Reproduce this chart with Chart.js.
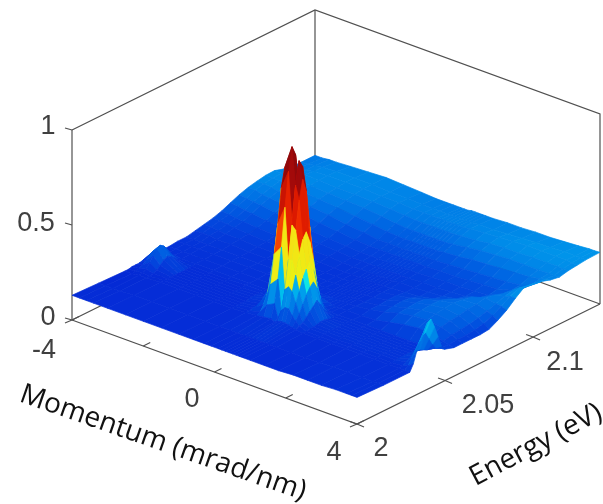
<!DOCTYPE html>
<html><head><meta charset="utf-8">
<style>html,body{margin:0;padding:0;background:#fff}canvas{display:block}</style>
<script src="https://cdn.jsdelivr.net/npm/chart.js@4"></script>
</head><body><canvas id="c" width="603" height="504"></canvas>
<script>
const momentum=[-4,-3.8,-3.6,-3.4,-3,-2.5,-2,-1.5,-1,-.6,-.3,-.1,.1,.2,.3,.4,.5,.6,.7,.8,1,1.4,1.8,2.2,2.6,3,3.4,3.7,3.85,4];
const energy=[2,2.015,2.03,2.032,2.034,2.036,2.038,2.04,2.042,2.044,2.046,2.048,2.05,2.055,2.06,2.065,2.07,2.075,2.08,2.085,2.09,2.095,2.1,2.105,2.11,2.115,2.12,2.125,2.13,2.138];
const surface=[
[.13,.13,.13,.13,.13,.13,.13,.13,.13,.13,.13,.13,.13,.13,.13,.13,.13,.13,.13,.13,.13,.13,.13,.135,.135,.135,.14,.14,.14,.14],
[.125,.125,.125,.125,.13,.13,.13,.13,.13,.13,.13,.13,.13,.13,.13,.13,.13,.13,.13,.13,.13,.13,.13,.13,.135,.135,.135,.135,.135,.135],
[.12,.12,.125,.125,.13,.13,.13,.13,.13,.135,.14,.145,.15,.14,.15,.155,.155,.15,.145,.14,.135,.135,.135,.135,.135,.135,.135,.135,.135,.135],
[.12,.125,.13,.125,.13,.13,.13,.13,.13,.135,.15,.2,.22,.15,.2,.22,.22,.19,.17,.15,.135,.135,.135,.135,.135,.135,.135,.14,.15,.17],
[.125,.13,.14,.13,.13,.13,.13,.13,.13,.14,.18,.3,.34,.17,.3,.32,.3,.25,.2,.16,.14,.14,.135,.14,.14,.14,.14,.15,.18,.23],
[.125,.14,.165,.14,.13,.13,.13,.13,.13,.14,.22,.45,.5,.25,.45,.45,.38,.3,.24,.18,.14,.14,.14,.14,.14,.14,.14,.16,.21,.27],
[.125,.155,.19,.155,.13,.13,.13,.13,.13,.145,.26,.6,.7,.4,.62,.6,.48,.36,.28,.2,.145,.14,.14,.14,.14,.14,.14,.17,.24,.31],
[.13,.175,.215,.175,.13,.13,.13,.13,.135,.15,.3,.78,.88,.62,.82,.75,.55,.4,.31,.22,.15,.14,.14,.14,.14,.14,.14,.18,.27,.35],
[.13,.185,.228,.185,.13,.13,.13,.13,.135,.155,.32,.88,1,.8,.94,.85,.58,.43,.33,.24,.15,.14,.14,.14,.14,.14,.14,.18,.28,.36],
[.13,.175,.215,.175,.13,.13,.13,.13,.135,.15,.3,.82,.95,.8,.9,.78,.52,.38,.29,.21,.145,.14,.14,.14,.14,.14,.14,.17,.24,.31],
[.13,.155,.19,.155,.13,.13,.13,.13,.135,.145,.24,.6,.72,.7,.7,.58,.42,.3,.22,.17,.14,.14,.14,.14,.14,.14,.14,.16,.2,.25],
[.13,.14,.16,.14,.13,.13,.13,.135,.135,.14,.18,.35,.42,.42,.42,.35,.28,.21,.17,.15,.14,.14,.14,.14,.14,.14,.14,.155,.17,.19],
[.135,.135,.14,.135,.135,.135,.135,.135,.135,.14,.15,.2,.24,.24,.24,.2,.17,.155,.145,.14,.14,.14,.14,.14,.14,.14,.145,.15,.16,.165],
[.135,.135,.135,.135,.135,.135,.135,.135,.135,.135,.14,.15,.155,.155,.155,.15,.145,.14,.14,.14,.14,.14,.145,.16,.175,.185,.18,.165,.155,.15],
[.14,.14,.14,.14,.14,.14,.14,.14,.14,.14,.14,.14,.14,.14,.14,.14,.14,.14,.14,.14,.14,.15,.165,.185,.2,.205,.195,.175,.16,.15],
[.14,.14,.14,.14,.14,.14,.14,.14,.14,.14,.14,.14,.14,.14,.14,.14,.14,.14,.14,.14,.14,.15,.17,.19,.205,.215,.205,.18,.16,.15],
[.15,.15,.15,.145,.145,.14,.14,.14,.14,.14,.14,.14,.14,.14,.14,.14,.14,.14,.14,.14,.14,.155,.175,.195,.21,.22,.21,.185,.165,.15],
[.16,.16,.155,.15,.15,.145,.145,.14,.14,.14,.14,.14,.14,.14,.14,.14,.14,.14,.14,.14,.145,.155,.17,.19,.21,.225,.22,.195,.175,.155],
[.17,.17,.165,.16,.155,.15,.15,.145,.145,.14,.14,.14,.14,.14,.14,.14,.14,.14,.14,.14,.145,.15,.155,.17,.195,.22,.225,.21,.195,.18],
[.185,.18,.175,.17,.165,.16,.155,.15,.15,.145,.145,.145,.145,.145,.145,.145,.145,.145,.145,.145,.15,.15,.155,.16,.175,.21,.235,.225,.22,.21],
[.205,.2,.195,.19,.18,.17,.165,.16,.155,.15,.15,.15,.15,.15,.15,.15,.15,.15,.15,.15,.15,.155,.155,.16,.165,.185,.225,.24,.25,.25],
[.225,.22,.215,.21,.2,.185,.175,.165,.16,.155,.155,.155,.155,.155,.155,.155,.155,.155,.155,.155,.155,.16,.165,.165,.17,.175,.21,.25,.27,.285],
[.24,.24,.23,.225,.22,.205,.19,.18,.17,.165,.165,.165,.165,.165,.165,.165,.165,.165,.165,.165,.165,.17,.17,.175,.18,.185,.205,.235,.26,.28],
[.25,.25,.245,.24,.235,.22,.21,.195,.185,.175,.175,.175,.175,.175,.175,.175,.175,.175,.175,.175,.175,.18,.185,.19,.195,.2,.21,.23,.25,.27],
[.258,.258,.255,.25,.245,.235,.225,.215,.205,.195,.19,.19,.19,.19,.19,.19,.19,.19,.19,.19,.195,.2,.21,.215,.22,.225,.23,.24,.25,.255],
[.26,.26,.26,.26,.25,.245,.24,.235,.225,.215,.21,.21,.21,.21,.21,.21,.21,.21,.21,.21,.215,.225,.235,.24,.245,.245,.245,.245,.245,.247],
[.245,.25,.255,.258,.255,.25,.25,.245,.24,.235,.23,.23,.23,.23,.23,.23,.23,.23,.23,.23,.235,.24,.25,.255,.255,.26,.26,.26,.258,.258],
[.235,.24,.245,.25,.255,.255,.255,.25,.25,.245,.245,.245,.245,.245,.245,.245,.245,.245,.245,.245,.25,.255,.26,.265,.27,.27,.27,.27,.265,.263],
[.235,.24,.245,.25,.255,.255,.255,.25,.25,.245,.245,.245,.245,.245,.245,.245,.245,.245,.245,.245,.25,.25,.255,.26,.265,.265,.27,.27,.27,.269],
[.235,.235,.24,.24,.245,.25,.255,.25,.245,.24,.24,.24,.24,.24,.24,.245,.245,.245,.245,.245,.245,.25,.25,.255,.255,.26,.265,.27,.27,.272]
];
const zTicks=[0,.5,1];
const mTicks=[-4,-2,0,2,4], eTicks=[2,2.05,2.1];
const colorStops=[[.10,0,30,205],[.13,5,45,215],[.2,0,95,226],[.27,0,148,234],[.3,0,160,236],[.33,0,220,238],[.345,30,235,220],[.355,235,240,20],[.54,245,225,20],[.565,245,50,0],[.7,220,25,0],[.82,165,10,10],[1,110,5,10]];

const M0=-4,M1=4,E0=2,E1=2.138;
function project(m,e,z){
  const a=(m-M0)/(M1-M0),b=(e-E0)/(E1-E0);
  return {x:72+285*a+243*b,y:320+104*a-120*b-190*z};
}
function colorFor(z){
  if(z<=colorStops[0][0])return `rgb(${colorStops[0].slice(1)})`;
  for(let i=1;i<colorStops.length;i++){
    const s=colorStops[i-1],t=colorStops[i];
    if(z<=t[0]){const f=(z-s[0])/(t[0]-s[0]);
      return `rgb(${[1,2,3].map(k=>Math.round(s[k]+(t[k]-s[k])*f))})`;}
  }
  const l=colorStops[colorStops.length-1];return `rgb(${l.slice(1)})`;
}
const drawList=[];
function addLine(pts,w,col){drawList.push({type:'line',data:pts,borderColor:col||'#505050',borderWidth:w||1.2,pointRadius:0,showLine:true,fill:false,tension:0});}
addLine([project(-4,E0,1),project(-4,E1,1),project(4,E1,1),project(4,E1,0)]);
addLine([project(-4,E1,1),project(-4,E1,0)]);
addLine([project(-4,E0,0),project(-4,E1,0),project(4,E1,0)]);
addLine([project(-4,E0,0),project(-4,E0,1)]);
addLine([project(-4,E0,0),project(4,E0,0),project(4,E1,0)]);
zTicks.forEach(z=>{const p=project(-4,E0,z);addLine([p,{x:p.x-7,y:p.y-2}]);});
mTicks.forEach(m=>{const p=project(m,E0,0);addLine([p,{x:p.x+7,y:p.y-3.5}]);if(m===-4||m===4)addLine([p,{x:p.x-7,y:p.y+3}]);});
eTicks.forEach(e=>{const p=project(4,e,0);addLine([p,{x:p.x+7,y:p.y+3}]);addLine([p,{x:p.x-7,y:p.y-2.5}]);});
// surface quads, far rows first, and within a row from low momentum to high
for(let j=energy.length-2;j>=0;j--)for(let i=0;i<momentum.length-1;i++){
  const zs=[surface[j][i],surface[j][i+1],surface[j+1][i+1],surface[j+1][i]];
  const mean=(zs[0]+zs[1]+zs[2]+zs[3])/4, col=colorFor(mean);
  const pts=[project(momentum[i],energy[j],zs[0]),project(momentum[i+1],energy[j],zs[1]),project(momentum[i+1],energy[j+1],zs[2]),project(momentum[i],energy[j+1],zs[3])];
  drawList.push({type:'line',data:pts.concat([pts[0]]),showLine:true,fill:'shape',backgroundColor:col,borderColor:col,borderWidth:.7,pointRadius:0,tension:0});
}
drawList.forEach((d,i)=>{d.order=drawList.length-i;});

const textPlugin={id:'labels',afterDraw(ch){
  const c=ch.ctx;c.save();
  c.textAlign='center';c.textBaseline='middle';c.fillStyle='#404040';c.font='27px "Liberation Sans"';
  [['1',48,127],['0.5',36,224],['0',48,318],['-4',44,351],['0',192,400],['4',334,453],['2',381,449],['2.05',488,406],['2.1',565,363]].forEach(t=>c.fillText(t[0],t[1],t[2]));
  c.fillStyle='#111';c.font='28px "Open Sans"';
  c.save();c.translate(163,443);c.rotate(19.2*Math.PI/180);c.fillText('Momentum (mrad/nm)',0,0);c.restore();
  c.save();c.translate(536,445);c.rotate(-28*Math.PI/180);c.fillText('Energy (eV)',0,0);c.restore();
  c.restore();
}};
new Chart(document.getElementById('c'),{type:'scatter',data:{datasets:drawList},plugins:[textPlugin],options:{
  responsive:false,animation:false,layout:{padding:0},
  plugins:{legend:{display:false},tooltip:{enabled:false},title:{display:false}},
  scales:{x:{type:'linear',min:0,max:603,display:false},y:{type:'linear',min:0,max:504,reverse:true,display:false}}
}});
</script></body></html>
